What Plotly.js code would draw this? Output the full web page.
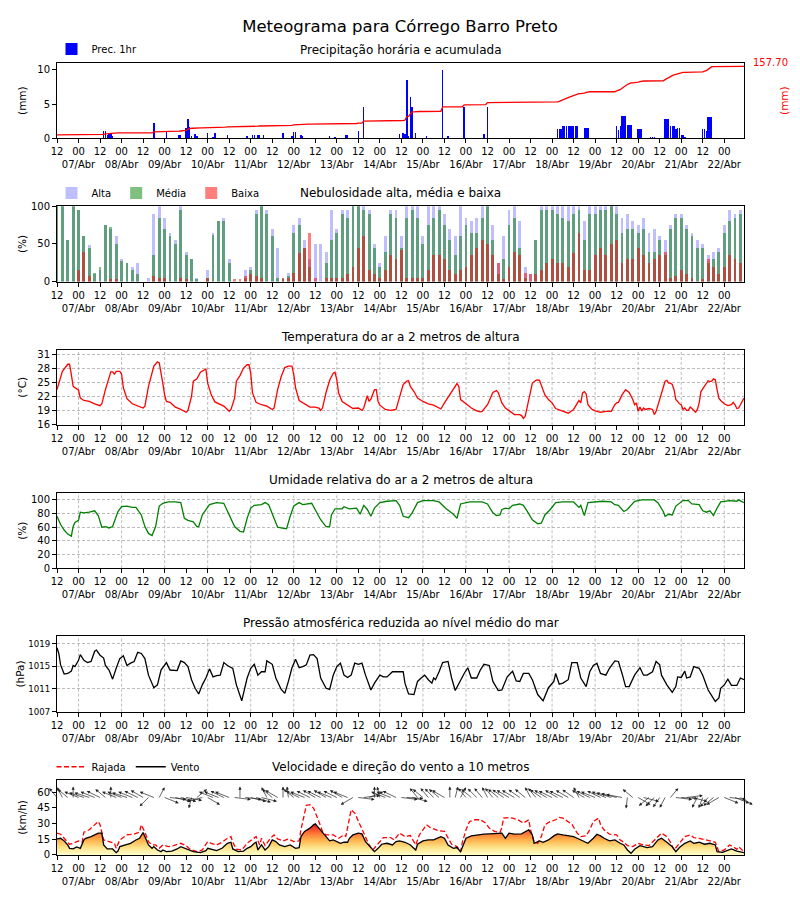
<!DOCTYPE html>
<html><head><meta charset="utf-8">
<script src="https://cdn.plot.ly/plotly-3.0.1.min.js"></script>
<style>body{margin:0;background:#fff}#chart{width:800px;height:900px}</style>
</head><body><div id="chart"></div>
<script>
// ---------- time axis: hour 0 = 06/Abr 12:00, hourly up to 22/Abr 11:00 ----------
const firstDay = 6;
const lastHour = 383;
const tickHours = [];
const tickLabels = [];
for (let h = 0; h <= 372; h += 12) {
  tickHours.push(h);
  if (h % 24 === 0) tickLabels.push('12');
  else tickLabels.push('00<br>' + String(firstDay + (h + 12) / 24).padStart(2, '0') + '/Abr');
}

// ---------- precipitation (mm/h), only hours with rain ----------
const precHours = [13,26,27,28,29,30,31,54,61,68,69,72,73,74,75,77,78,84,87,88,95,106,109,110,112,113,115,126,131,132,133,136,137,152,155,161,162,168,171,
  191,193,194,195,196,197,198,200,206,215,218,227,238,240,
  279,280,281,282,283,284,285,286,287,288,289,290,294,295,296,
  312,313,314,315,316,317,318,319,320,324,325,326,331,332,333,
  339,340,341,342,343,344,345,346,347,348,349,350,
  360,361,362,363,364,365,372,373,374,375,376,377];
const precValues = [0.1,1.0,1.1,0.5,0.6,0.8,0.4,2.3,1.1,0.5,0.5,1.5,2.8,1.6,0.4,0.6,0.3,0.7,0.15,0.8,0.45,0.3,0.45,0.45,0.5,0.5,0.5,0.75,0.3,0.9,0.9,0.5,0.4,0.35,0.15,0.5,0.5,1.0,4.6,
  0.6,0.7,0.6,8.5,0.3,6.1,4.6,0.7,0.4,10.0,0.4,4.6,0.6,4.6,
  1.4,1.4,1.4,1.8,1.8,1.8,1.8,1.8,1.8,1.8,1.8,1.8,1.5,1.5,1.5,
  1.8,1.2,1.8,3.3,3.3,3.3,1.95,1.95,1.95,1.4,1.4,1.4,0.15,0.15,0.15,
  2.8,2.8,2.8,1.8,1.8,1.8,1.4,1.5,1.5,0.5,0.5,0.15,
  1.4,1.4,1.1,3.1,3.1,3.1,0.1,0.1,0.1,0.1,0.1,0.1];

// ---------- cloud cover (%), every 3 hours ----------
const cloudAlta = [100,100,55,100,95,60,48,10,15,75, 70,60,30,25,20,25,0,5,90,100, 85,65,55,100,40,30,5,0,15,65,
  80,85,30,0,0,15,20,95,100,95, 70,45,5,12,75,85,55,30,50,50, 40,95,70,95,95,100,100,100,95,50,
  25,60,95,95,60,100,100,100,60,100, 100,100,90,70,60,100,85,80,85,100, 100,75,25,60,95,100,80,20,10,55,
  100,100,100,100,100,100,100,100,80,100, 100,100,100,100,100,85,90,80,75,85, 65,70,60,55,75,90,90,75,65,55,
  50,35,40,45,75,95,90,95];
const cloudMedia = [100,100,55,100,95,60,45,12,20,75, 72,50,28,25,15,10,0,0,35,85, 70,60,50,95,35,30,3,0,5,62,
  80,80,25,0,0,5,15,90,100,90, 60,5,3,8,65,75,45,20,0,0, 25,55,65,90,85,100,100,95,90,45,
  20,40,90,85,45,85,95,85,50,75, 85,95,75,55,35,60,75,65,65,85, 100,55,10,30,75,85,45,5,0,55,
  95,95,95,90,85,80,90,95,55,90, 90,95,95,100,90,65,70,70,65,70, 40,40,55,35,70,85,85,70,60,45,
  45,25,30,40,65,80,85,90];
const cloudBaixa = [0,0,0,0,15,40,8,0,0,0, 3,3,0,0,0,0,0,0,7,5, 5,0,0,5,3,0,0,0,5,0,
  0,0,0,3,4,8,10,8,5,0, 0,0,5,5,12,38,45,65,5,0, 5,5,5,5,10,20,45,60,15,10,
  5,15,35,30,42,5,5,5,5,15, 35,35,30,15,10,15,20,35,45,55, 50,35,25,3,20,40,35,12,10,10,
  15,25,30,25,25,20,38,65,15,15, 35,45,35,50,55,25,30,30,45,35, 25,30,35,40,5,8,15,10,5,0,
  3,30,20,10,20,35,30,25];

// ---------- temperature (°C) ----------
const tempHours = [0,3,6,7,8,9,12,13,15,18,21,24,25,27,30,31,32,33,35,36,37,39,42,45,48,49,51,54,56,57,58,59,60,61,63,66,69,72,73,75,76,78,80,82,83,84,86,88,90,93,96,97,99,100,102,104,106,107,108,109,111,114,117,119,120,121,123,125,127,129,131,132,133,135,138,141,144,146,147,148,150,152,154,155,156,157,159,162,165,168,170,171,173,174,175,177,178,179,180,183,186,189,190,191,193,195,196,197,199,201,204,207,210,213,214,216,219,222,223,224,225,228,231,234,236,237,240,243,245,246,248,250,252,255,258,259,260,261,262,264,265,267,268,269,270,272,274,276,278,282,285,288,290,291,292,293,294,295,296,298,300,303,306,309,311,312,313,315,317,319,321,322,323,324,325,326,327,328,330,332,333,334,336,338,339,340,341,342,343,344,345,346,347,348,349,350,351,352,353,354,355,356,357,358,359,361,362,363,364,365,366,367,368,369,370,372,374,376,377,378,379,380,381,382,383];
const tempValues = [23.5,27.4,28.9,28.9,26.7,24.2,23.4,21.7,21.2,21.0,20.5,20.1,20.5,23.5,27.3,27.3,26.8,27.4,27.4,26.8,23.9,21.6,20.5,20.1,19.6,20.0,24.2,28.5,29.4,29.2,27.4,24.9,22.4,21.0,20.8,19.8,19.3,18.7,19.1,22.1,25.3,25.8,27.2,27.7,27.9,24.9,22.4,20.9,20.5,20.0,18.9,19.3,21.7,25.3,26.5,28.1,28.8,28.8,27.0,22.8,20.8,20.3,20.0,19.5,19.3,19.6,23.5,26.3,28.2,28.5,28.5,26.7,23.9,21.2,20.5,19.8,19.8,19.6,19.1,19.6,22.9,25.5,27.0,27.2,25.6,22.8,21.0,20.3,19.5,19.6,19.1,19.6,22.2,21.0,21.5,23.5,23.5,21.0,20.2,19.3,19.1,19.3,20.5,22.0,24.6,25.3,25.4,24.2,23.1,21.7,21.0,20.5,20.2,19.6,19.4,20.7,22.4,24.2,24.8,24.2,21.4,20.5,19.6,19.0,18.8,18.9,20.3,22.9,23.3,22.9,20.7,19.6,19.1,18.2,18.2,18.0,17.4,17.8,19.6,23.5,24.9,25.5,25.6,25.5,24.6,22.4,21.4,20.7,19.5,18.9,18.5,19.3,20.7,21.2,20.7,22.8,23.1,22.6,20.3,19.4,19.0,18.7,18.9,18.9,20.3,20.7,20.8,22.4,23.5,22.9,21.4,20.3,20.7,18.9,19.8,19.0,19.6,19.3,19.5,19.3,18.2,18.9,21.4,24.2,25.3,25.5,24.9,24.9,24.6,23.5,21.4,21.0,20.5,20.3,19.3,19.6,19.1,19.1,19.8,19.5,19.0,18.7,19.3,20.7,23.1,24.2,24.9,25.4,25.2,25.3,25.8,25.6,23.5,21.7,21.2,20.5,20.1,20.3,20.8,20.3,19.5,19.6,20.3,21.2,21.7];

// ---------- relative humidity (%) ----------
const humHours = [0,2,4,6,8,9,10,12,13,15,18,21,23,25,27,29,31,34,36,39,42,44,47,49,51,53,55,57,59,62,66,69,71,73,76,78,79,81,85,89,93,96,99,102,104,106,108,110,114,116,118,121,123,127,128,130,132,135,137,142,144,147,150,152,153,155,159,160,163,167,169,171,173,175,177,180,184,189,191,193,196,198,201,204,210,213,217,221,223,224,225,230,237,240,243,245,247,248,250,252,254,258,260,262,265,268,270,272,275,278,282,288,291,292,294,296,299,304,309,311,313,316,318,322,326,333,335,338,339,341,343,345,349,352,354,358,360,362,364,366,368,370,375,379,380,383];
const humValues = [76,64,56,50,47,61,67,70,82,81,82,84,77,60,61,59,61,83,90,91,89,89,78,61,51,48,61,91,95,97,97,96,73,70,68,61,61,78,93,96,95,78,61,54,53,73,88,92,93,96,93,73,60,58,58,76,91,96,93,95,86,71,61,61,78,87,87,90,87,88,79,92,86,76,88,96,98,99,92,76,74,81,96,99,99,97,87,79,73,83,94,97,97,94,81,77,78,86,88,87,92,94,92,84,71,65,66,78,86,96,97,97,89,92,77,96,97,98,97,93,92,83,86,98,100,100,96,83,76,79,78,91,99,99,94,93,84,82,84,77,88,97,99,98,100,96];

// ---------- pressure (hPa) ----------
const presHours = [0,1,2,4,6,8,9,10,12,13,15,17,19,21,22,24,26,27,29,31,33,35,37,39,41,43,45,47,49,51,54,56,58,60,61,63,65,67,69,71,73,75,77,79,81,83,85,87,89,91,93,95,98,100,103,104,106,108,110,112,114,116,117,120,122,125,127,129,131,133,135,137,139,141,143,145,147,150,152,154,156,158,160,162,164,166,168,170,172,175,177,180,182,184,187,189,193,194,196,199,201,203,205,207,209,210,211,213,215,218,220,222,224,227,229,231,234,236,238,241,243,246,248,251,254,256,258,260,263,265,268,271,274,277,278,280,282,285,287,290,292,295,297,299,301,303,306,308,311,313,315,317,319,322,325,327,329,332,334,336,337,340,343,345,346,348,350,351,353,355,358,360,363,365,367,369,370,372,374,376,379,381,383];
const presValues = [1018.2,1017.2,1015.2,1013.6,1013.7,1014.1,1015.1,1014.9,1016.0,1017.0,1016.0,1015.6,1015.8,1017.6,1017.8,1016.9,1016.4,1015.1,1014.3,1012.7,1014.6,1016.3,1016.8,1015.1,1015.5,1015.8,1017.4,1017.2,1016.3,1013.4,1011.2,1011.7,1014.3,1015.2,1015.6,1014.3,1014.2,1014.2,1015.9,1015.6,1014.9,1012.6,1011.1,1010.1,1011.7,1012.9,1014.5,1013.1,1013.3,1013.4,1015.6,1015.1,1014.6,1011.7,1008.9,1010.1,1012.9,1014.6,1015.3,1013.4,1014.0,1014.0,1015.9,1015.3,1012.9,1010.9,1010.2,1012.3,1014.7,1016.2,1014.7,1014.9,1015.2,1016.9,1017.0,1016.3,1012.9,1011.1,1010.9,1013.4,1014.9,1015.5,1013.4,1013.0,1013.4,1015.5,1015.3,1015.5,1013.4,1010.8,1012.0,1013.4,1013.1,1013.1,1014.0,1014.0,1014.0,1012.0,1010.1,1010.0,1012.3,1012.9,1013.4,1012.6,1012.0,1012.9,1012.6,1014.0,1015.6,1015.8,1012.9,1010.7,1012.0,1013.7,1014.7,1012.9,1012.9,1014.3,1015.3,1015.1,1012.3,1010.7,1010.8,1013.1,1014.1,1012.4,1012.3,1013.7,1013.7,1012.6,1010.0,1008.9,1011.2,1012.3,1013.7,1011.8,1012.0,1012.6,1015.6,1015.6,1012.9,1011.4,1014.0,1015.1,1015.5,1013.7,1013.4,1014.6,1015.9,1015.8,1013.7,1011.4,1011.4,1013.4,1014.7,1013.4,1013.4,1014.0,1015.8,1015.2,1013.4,1011.7,1010.4,1011.4,1013.1,1013.0,1014.1,1012.9,1013.1,1014.9,1014.6,1013.4,1010.8,1009.7,1008.8,1009.4,1011.1,1011.7,1012.7,1011.6,1011.6,1012.9,1012.6];

// ---------- wind speed and gust (km/h) ----------
const windHours = [0,2,4,6,7,9,11,13,15,16,19,21,23,25,26,28,31,33,34,35,38,41,44,46,48,49,51,53,54,56,58,59,61,64,67,69,71,73,76,80,83,84,87,89,92,95,97,98,101,104,106,108,110,111,112,114,116,118,120,122,124,127,130,133,135,136,138,141,143,144,146,148,150,152,154,156,158,160,162,163,165,168,170,172,175,177,179,181,184,187,189,191,194,197,200,201,204,207,210,212,214,216,218,221,223,225,226,228,231,234,238,241,245,248,250,252,255,259,263,265,266,269,271,274,277,279,282,285,288,290,293,296,299,301,303,305,308,311,314,316,318,320,322,325,329,332,335,337,340,343,345,347,350,353,355,358,361,364,367,368,371,374,376,379,381,383];
const windValues = [15.4,16,13.5,9.6,6.4,5.8,7.7,6.4,14.4,16,17.6,19.2,20.9,20.9,9.6,5.8,5.8,2.2,3.8,8,9.6,11.2,14.4,16,21.5,17.6,9.6,6.4,8,4.8,3.2,4.8,3.2,3.8,5.8,8,6.4,4.8,3.2,2.2,4.2,6.4,4.8,4.2,6.4,11.2,12.2,5.8,3.2,3.8,6.4,8,11.2,12.2,4.8,9.6,4.8,8,14.4,12.8,9.6,8,9.6,6.4,7.1,17.6,22.5,25.7,28.9,29.8,25.7,21.8,17.6,13.5,14.4,12.8,11.2,12.2,12.2,16,19.2,20.9,20.2,12.8,6.4,3.2,6.4,10.3,11.2,9.6,12.8,13.5,12.2,9.6,4.8,10.3,13.5,14.4,14.4,16,17.6,16,9.6,6.4,7.1,3.2,8,16,18.3,19.2,19.9,20.2,20.2,20.9,16,20.9,19.9,20.2,24.1,19.2,11.2,13.5,12.2,14.4,18.3,20.2,19.2,18.3,17.6,16,13.8,11.2,16,19.9,18.3,16,13.5,14.4,11.2,9.6,4.8,1.6,5.5,9,7.1,8,14.4,16,12.2,8,3.2,7.1,11.2,13.5,11.2,12.2,10.3,11.2,9.6,3.2,2.6,4.2,5.8,3.8,3.2,2.2];
const gustHours = [0,2,4,7,9,12,14,15,18,20,23,24,26,29,32,33,35,39,43,46,47,49,51,53,55,57,59,62,65,69,72,74,78,81,84,86,89,92,95,97,98,100,103,106,108,110,111,113,114,116,119,121,123,126,129,132,135,136,138,139,141,143,146,148,150,154,157,160,161,162,164,166,168,170,172,174,176,179,182,186,188,191,194,197,200,202,204,206,208,211,213,216,218,220,223,225,226,228,230,233,236,239,241,244,247,248,249,252,254,257,260,263,264,266,268,270,272,275,278,280,282,285,287,290,292,295,297,299,302,303,305,308,310,312,314,316,318,321,324,327,330,334,337,340,342,344,347,350,353,355,358,362,365,367,369,372,375,377,379,380,383];
const gustValues = [20.9,19.9,16,10.3,11.2,13.5,12.2,21.8,24.1,27.3,32.1,28.9,14.4,12.8,11.2,6.4,14.4,19.2,19.9,21.8,28.9,21.8,12.8,9.6,9.6,6.4,9.6,8,9,11.2,9,5.8,3.2,4.8,12.8,11.2,9.6,12.2,16,17.6,12.2,5.5,4.8,11.2,13.5,16,17.6,9.6,16,9,16,19.2,15.4,13.5,15.4,12.8,13.5,24.1,40.1,47.5,48.1,44.9,32.1,22.5,19.2,19.2,16,19.2,17.6,25.7,43.3,40.1,32.1,25.7,16,9.6,4.8,11.2,16.7,16.7,14.4,20.9,17.6,18.6,9.6,19.2,24.1,28.9,26.3,24.1,23.1,22.5,16,10.3,8,3.2,12.2,24.1,32.1,33.7,33.7,30.5,25.7,22.5,21.8,26.3,35.3,35.9,35.3,33.7,30.5,33.7,24.1,12.8,11.2,17.6,28.9,32.1,33.7,35.9,35.3,32.1,29.5,20.9,17.6,18.3,24.1,32.1,35.3,28.9,24.1,19.9,19.2,19.2,14.4,12.2,9,8,11.2,9.6,9,16,20.9,17.6,12.2,4.8,11.2,17.6,19.2,16.7,16,14.4,13.5,12.2,3.2,4.8,9.6,8,5.5,8,3.2];
// wind direction (degrees, meteorological "from"), every 3 hours
const windDir = [150,160,140,180,120,115,115,120,125,140, 180,120,120,115,120,125,130,35,120,200,
  300,280,290,290,285,10,220,70,310,120, 120,125,120,280,180,280,290,295,290,160,
  140,130,180,175,140,125,120,125,130,125, 130,120,125,130,120,50,280,260,240,180,
  170,120,120,125,280,275,290,150,140,150, 145,140,130,180,190,200,150,140,145,150,
  160,150,140,135,130,130,135,140,160,150, 135,130,125,130,125,130,135,160,130,125,
  120,125,120,115,110,105,5,140,310,290, 40,35,25,20,210,280,275,260,290,20,
  15,30,40,50,300,280,300,310];

const panelTitles = ['Precipitação horária e acumulada','Nebulosidade alta, média e baixa','Temperatura do ar a 2 metros de altura',
  'Umidade relativa do ar a 2 metros de altura','Pressão atmosférica reduzida ao nível médio do mar','Velocidade e direção do vento a 10 metros'];

// ---------- derived ----------
const allHours = []; for (let h = 0; h <= lastHour; h++) allHours.push(h);
const precHourly = allHours.map(() => 0);
precHours.forEach((h, i) => { precHourly[h] += precValues[i]; });
let run = 0; const precCum = precHourly.map(v => (run += v));
const precTotal = precValues.reduce((a, b) => a + b, 0);
const step3 = []; for (let h = 0; h <= lastHour; h += 3) step3.push(h);

// ---------- layout geometry ----------
const FONT = 'DejaVu Sans, Liberation Sans, sans-serif';
const Lpx = 56.7, Rpx = 744.3, Tpx = 63, Bpx = 855.3, plotH = Bpx - Tpx;
const panelTop = [63, 206.4, 349.8, 493.2, 636.6, 780];
const panelH = 75.3;
const py = p => (Bpx - p) / plotH;
const dom = k => [Math.max(0, py(panelTop[k] + panelH)), py(panelTop[k])];

function xax(k) {
  return {domain: [0, 1], anchor: k ? 'y' + (k + 1) : 'y', range: [0, lastHour], tickmode: 'array',
    tickvals: tickHours, ticktext: tickLabels, tickangle: 0, ticks: 'outside', ticklen: 4, tickcolor: '#000',
    showline: true, linecolor: '#000', linewidth: 1, mirror: true, showgrid: false, zeroline: false,
    tickfont: {size: 10, color: '#000', family: FONT}, fixedrange: true};
}
function yax(k, range, vals, title, grid, tickfont) {
  return {domain: dom(k), anchor: k ? 'x' + (k + 1) : 'x', range: range, tickmode: 'array', tickvals: vals,
    ticks: 'outside', ticklen: 4, tickcolor: '#000', showline: true, linecolor: '#000', linewidth: 1, mirror: true,
    showgrid: !!grid, gridcolor: '#a0a0a0', gridwidth: 0.7, griddash: '3px,2px', zeroline: false,
    tickfont: tickfont || {size: 10, color: '#000', family: FONT},
    title: {text: title, font: {size: 10.5, color: '#000', family: FONT}}, fixedrange: true};
}

const traces = [
  {type: 'bar', x: precHours, y: precValues, width: 0.8, marker: {color: '#0000ff', line: {width: 0}},
    name: 'Prec. 1hr', xaxis: 'x', yaxis: 'y', legend: 'legend', hoverinfo: 'x+y'},
  {type: 'scatter', mode: 'lines', x: allHours, y: precCum, line: {color: '#ff0000', width: 1.3},
    name: 'Prec. acumulada', showlegend: false, xaxis: 'x', yaxis: 'y7'},
  {type: 'bar', x: step3, y: cloudAlta, width: 1.6, marker: {color: 'rgba(0,0,255,0.25)', line: {width: 0}},
    name: 'Alta', xaxis: 'x2', yaxis: 'y2', legend: 'legend2'},
  {type: 'bar', x: step3, y: cloudMedia, width: 1.6, marker: {color: 'rgba(0,128,0,0.5)', line: {width: 0}},
    name: 'Média', xaxis: 'x2', yaxis: 'y2', legend: 'legend2'},
  {type: 'bar', x: step3, y: cloudBaixa, width: 1.6, marker: {color: 'rgba(255,0,0,0.5)', line: {width: 0}},
    name: 'Baixa', xaxis: 'x2', yaxis: 'y2', legend: 'legend2'},
  {type: 'scatter', mode: 'lines', x: tempHours, y: tempValues, line: {color: '#ff0000', width: 1.3},
    name: 'Temperatura', showlegend: false, xaxis: 'x3', yaxis: 'y3'},
  {type: 'scatter', mode: 'lines', x: humHours, y: humValues, line: {color: '#008000', width: 1.3},
    name: 'Umidade', showlegend: false, xaxis: 'x4', yaxis: 'y4'},
  {type: 'scatter', mode: 'lines', x: presHours, y: presValues, line: {color: '#000000', width: 1.3},
    name: 'Pressão', showlegend: false, xaxis: 'x5', yaxis: 'y5'},
  {type: 'scatter', mode: 'lines', x: windHours, y: windValues, line: {width: 0, color: 'rgba(0,0,0,0)'},
    fill: 'tozeroy', fillgradient: {type: 'vertical', start: 0, stop: 36,
      colorscale: [[0, '#ffffcc'], [0.2, '#fee38a'], [0.4, '#feb24c'], [0.6, '#fc6d33'], [0.8, '#e31a1c'], [1, '#b10026']]},
    showlegend: false, hoverinfo: 'skip', xaxis: 'x6', yaxis: 'y6'},
  {type: 'scatter', mode: 'lines', x: gustHours, y: gustValues, line: {color: '#ff0000', width: 1.3, dash: '5px,2.5px'},
    name: 'Rajada', legend: 'legend3', legendrank: 1, xaxis: 'x6', yaxis: 'y6'},
  {type: 'scatter', mode: 'lines', x: windHours, y: windValues, line: {color: '#000000', width: 1.3},
    name: 'Vento', legend: 'legend3', legendrank: 2, xaxis: 'x6', yaxis: 'y6'}
];

const annotations = panelTitles.map((t, k) => ({text: t, xref: 'paper', yref: 'paper', x: 0.5, y: py(panelTop[k] - 13),
  xanchor: 'center', yanchor: 'middle', showarrow: false, font: {size: 12, color: '#000', family: FONT}}));
annotations.push({text: precTotal.toFixed(2), xref: 'paper', yref: 'paper', x: (771 - Lpx) / (Rpx - Lpx), y: py(62),
  xanchor: 'center', yanchor: 'middle', showarrow: false, font: {size: 10, color: '#ff0000', family: FONT}});
// wind direction arrows (tail on the 55 km/h line, head toward where the wind blows)
step3.forEach((h, i) => {
  const b = (windDir[i] + 180) * Math.PI / 180;
  annotations.push({x: h, y: 55, xref: 'x6', yref: 'y6', text: '', showarrow: true, axref: 'pixel', ayref: 'pixel',
    ax: 18 * Math.sin(b), ay: -12.5 * Math.cos(b), arrowside: 'start', startarrowhead: 2, startarrowsize: 0.9,
    arrowwidth: 0.7, arrowcolor: '#222', standoff: 0, startstandoff: 0});
});

const shapes = [];
[3, 4, 5].forEach(k => {
  tickHours.filter(h => h % 24 === 12).forEach(h => shapes.push({type: 'line', xref: 'x' + k, yref: 'y' + k + ' domain',
    x0: h, x1: h, y0: 0, y1: 1, layer: 'below', line: {color: '#a0a0a0', width: 0.7, dash: '3px,2px'}}));
});

const legBase = {orientation: 'h', xanchor: 'left', yanchor: 'middle', bgcolor: 'rgba(0,0,0,0)',
  font: {size: 10, color: '#000', family: FONT}, itemwidth: 30};

const layout = {
  width: 800, height: 900, paper_bgcolor: '#fff', plot_bgcolor: '#fff',
  margin: {l: Lpx, r: 800 - Rpx, t: Tpx, b: 900 - Bpx},
  font: {family: FONT, color: '#000'},
  title: {text: 'Meteograma para Córrego Barro Preto', x: 0.5, xanchor: 'center', y: 1 - 26 / 900, yanchor: 'middle',
    font: {size: 16.5, color: '#000', family: FONT}},
  barmode: 'overlay', bargap: 0,
  xaxis: xax(0), xaxis2: xax(1), xaxis3: xax(2), xaxis4: xax(3), xaxis5: xax(4), xaxis6: xax(5),
  yaxis: yax(0, [0, 11], [0, 5, 10], '(mm)', false),
  yaxis2: yax(1, [0, 100], [0, 50, 100], '(%)', false),
  yaxis3: yax(2, [16, 32], [16, 19, 22, 25, 28, 31], '(°C)', true),
  yaxis4: yax(3, [0, 110], [0, 20, 40, 60, 80, 100], '(%)', true),
  yaxis5: yax(4, [1007, 1020.2], [1007, 1011, 1015, 1019], '(hPa)', true,
    {size: 9.5, color: '#000', family: 'DejaVu Sans Condensed, DejaVu Sans, sans-serif'}),
  yaxis6: yax(5, [0, 72], [0, 15, 30, 45, 60], '(km/h)', false),
  yaxis7: {overlaying: 'y', side: 'right', anchor: 'x', range: [-7.885, 165.585], showticklabels: false, ticks: '',
    showline: false, showgrid: false, zeroline: false, fixedrange: true,
    title: {text: '(mm)', standoff: 36, font: {size: 10.5, color: '#ff0000', family: FONT}}},
  legend: Object.assign({}, legBase, {x: -0.008, y: py(49)}),
  legend2: Object.assign({}, legBase, {x: -0.008, y: py(193)}),
  legend3: Object.assign({}, legBase, {x: -0.008, y: py(767)}),
  annotations: annotations, shapes: shapes, showlegend: true
};

Plotly.newPlot('chart', traces, layout, {displayModeBar: false, staticPlot: true});
</script>
</body></html>
